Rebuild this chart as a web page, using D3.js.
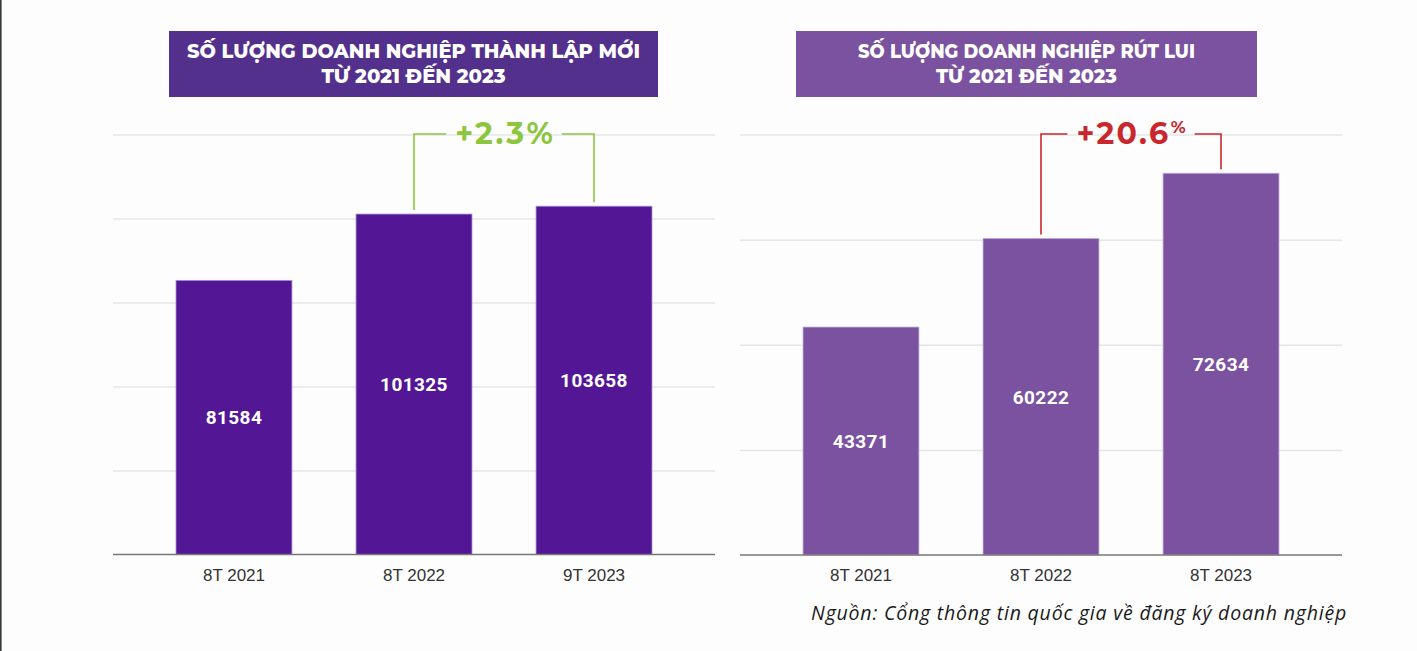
<!DOCTYPE html>
<html><head><meta charset="utf-8">
<script src="https://cdn.jsdelivr.net/npm/d3@7"></script>
<style>
html,body{margin:0;padding:0;background:#fdfdfd;}
svg{display:block;}
</style></head>
<body>
<svg id="c" width="1417" height="651"></svg>
<script>
// ---- data ----
const catsNew = ["8T 2021", "8T 2022", "9T 2023"];
const valsNew = [81584, 101325, 103658];
const ticksNew = [0, 25000, 50000, 75000, 100000, 125000];
const catsExit = ["8T 2021", "8T 2022", "8T 2023"];
const valsExit = [43371, 60222, 72634];
const ticksExit = [0, 20000, 40000, 60000, 80000];
const titleNew = ["SỐ LƯỢNG DOANH NGHIỆP THÀNH LẬP MỚI", "TỪ 2021 ĐẾN 2023"];
const titleExit = ["SỐ LƯỢNG DOANH NGHIỆP RÚT LUI", "TỪ 2021 ĐẾN 2023"];
const changeNew = {text: "+2.3", pct: "%", from: 1, to: 2};
const changeExit = {text: "+20.6", pct: "%", from: 1, to: 2};
const sourceText = "Nguồn: Cổng thông tin quốc gia về đăng ký doanh nghiệp";

const svg = d3.select("#c");
svg.append("rect").attr("x", 0).attr("y", 0).attr("width", 1.6).attr("height", 651).attr("fill", "#343a3e");

function panel(o) {
  const g = svg.append("g");
  // title box
  g.append("rect").attr("x", o.box[0]).attr("y", 31).attr("width", o.box[1] - o.box[0]).attr("height", 66).attr("fill", o.boxColor);
  const cx = (o.box[0] + o.box[1]) / 2;
  o.title.forEach((t, i) => g.append("text").attr("text-anchor", "middle").attr("fill", "#fff")
    .style("font-family", "Montserrat, 'Open Sans', sans-serif").style("font-weight", 800).style("font-size", "20px")
    .attr("x", cx).attr("y", 58 + i * 25)
    .attr("textLength", o.titleW[i]).attr("lengthAdjust", "spacingAndGlyphs").text(t));

  const x = d3.scaleBand().domain(o.cats).range([o.x0, o.x1]).paddingInner(0.356).paddingOuter(0.35);
  const y = d3.scaleLinear().domain([0, o.ticks[o.ticks.length - 1]]).range([o.base, 134.5]);

  // gridlines
  const grid = g.append("g").attr("transform", `translate(${o.x0},0)`)
    .call(d3.axisLeft(y).tickValues(o.ticks.slice(1)).tickSize(-(o.x1 - o.x0)).tickFormat(""));
  grid.select(".domain").remove();
  grid.selectAll(".tick line").attr("stroke", "#e6e6e6").attr("stroke-width", 1.5);

  // bars
  g.selectAll("rect.bar").data(o.vals).join("rect").attr("class", "bar")
    .attr("x", (d, i) => x(o.cats[i])).attr("width", x.bandwidth())
    .attr("y", d => y(d)).attr("height", d => y(0) - y(d))
    .attr("fill", o.barColor).attr("stroke", o.barStroke).attr("stroke-width", 0.8);

  // value labels
  g.selectAll("text.val").data(o.vals).join("text").attr("class", "val")
    .attr("x", (d, i) => x(o.cats[i]) + x.bandwidth() / 2)
    .attr("y", d => (y(d) + y(0)) / 2 + 7)
    .attr("text-anchor", "middle").attr("fill", "#fff")
    .style("font-family", "Roboto, Arial, sans-serif").style("font-weight", 700).style("font-size", "19px")
    .style("letter-spacing", "0.4px")
    .text(d => d);

  // x axis
  const ax = g.append("g").attr("transform", `translate(0,${o.base})`)
    .call(d3.axisBottom(x).tickSize(0).tickPadding(14));
  ax.select(".domain").attr("stroke", "#777").attr("stroke-width", 1.6).attr("d", `M${o.x0},0H${o.x1}`);
  ax.selectAll("text").attr("fill", "#333").style("font-family", "'Liberation Sans', Arial, sans-serif").style("font-size", "17px");

  // change annotation
  const c = o.change;
  const xa = x(o.cats[c.from]) + x.bandwidth() / 2;
  const xb = x(o.cats[c.to]) + x.bandwidth() / 2;
  const yb = 134;
  const ann = g.append("text").attr("x", (xa + xb) / 2).attr("y", 144).attr("text-anchor", "middle")
    .attr("fill", o.annColor).style("font-family", "Montserrat, 'Open Sans', sans-serif").style("font-weight", 700)
    .style("font-size", "30px").style("letter-spacing", "2.5px");
  ann.append("tspan").text(c.text);
  ann.append("tspan").style("font-size", o.pctSmall ? "17px" : "30px").style("letter-spacing", "0px")
    .attr("dy", o.pctSmall ? -11 : 0).text(c.pct);
  const w = ann.node().getComputedTextLength();
  const gap = 9;
  const tl = (xa + xb) / 2 - w / 2 - gap, tr = (xa + xb) / 2 + w / 2 + gap;
  g.append("path").attr("fill", "none").attr("stroke", o.annColor).attr("stroke-width", 1.6)
    .attr("d", `M${xa},${y(o.vals[c.from]) - 4}V${yb}H${tl}M${tr},${yb}H${xb}V${y(o.vals[c.to]) - 4}`);
}

panel({box: [169, 658], boxColor: "#53308c", title: titleNew, titleW: [453, 184], cats: catsNew, vals: valsNew, ticks: ticksNew,
  x0: 113, x1: 715, base: 554.5, barColor: "#531795", barStroke: "#a58fd0", change: changeNew, annColor: "#8cc63f", pctSmall: false});
panel({box: [796, 1257], boxColor: "#7b52a0", title: titleExit, titleW: [337, 181], cats: catsExit, vals: valsExit, ticks: ticksExit,
  x0: 740, x1: 1342, base: 555, barColor: "#7b52a0", barStroke: "#c2b0d8", change: changeExit, annColor: "#c8282d", pctSmall: true});

svg.append("text").attr("x", 1347).attr("y", 620).attr("text-anchor", "end").attr("fill", "#1a1a1a")
  .style("font-family", "'Open Sans', sans-serif").style("font-style", "italic").style("font-weight", 500).style("font-size", "19.5px")
  .style("letter-spacing", "0.8px")
  .text(sourceText);
</script>
</body></html>
